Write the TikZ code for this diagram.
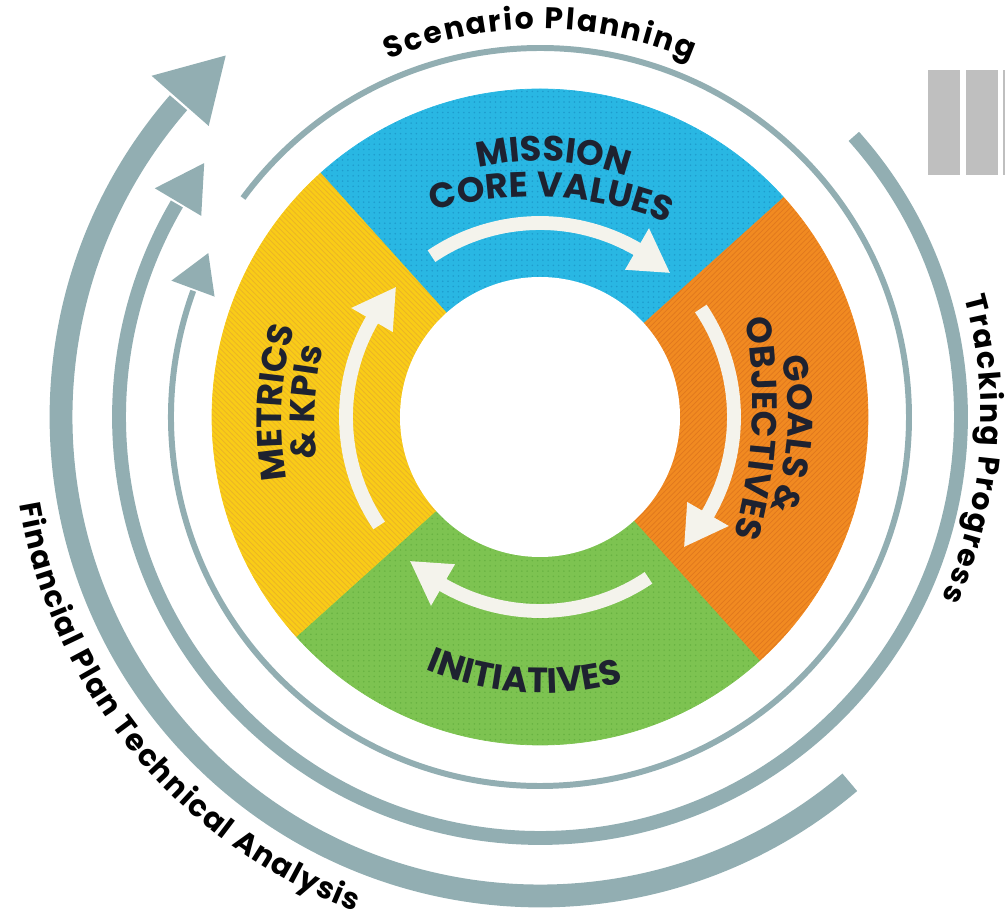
\documentclass[tikz,border=0pt]{standalone}
\usepackage{fontspec}
\setmainfont{Poppins}
\usepackage{tikz}
\usepackage{xcolor}
\usetikzlibrary{decorations.text, patterns}

\definecolor{ringgrey}{RGB}{146,174,178}
\definecolor{missionblue}{RGB}{41,183,227}
\definecolor{goalorange}{RGB}{241,138,33}
\definecolor{initgreen}{RGB}{125,195,81}
\definecolor{metricyellow}{RGB}{249,204,23}
\definecolor{bluedot}{RGB}{30,156,205}
\definecolor{orangeline}{RGB}{224,120,30}
\definecolor{greendot}{RGB}{104,178,66}
\definecolor{yellowline}{RGB}{234,178,40}
\definecolor{arrowwhite}{RGB}{244,243,236}
\definecolor{labeldark}{RGB}{30,34,48}
\definecolor{boxgrey}{RGB}{191,191,191}

\newcommand{\ringfont}{\fontsize{17}{17}\selectfont\bfseries}
\newcommand{\segfont}{\fontsize{20}{20}\selectfont\bfseries}

% white arrow inside a sector, #1 = middle angle of the sector
\newcommand{\cyclearrow}[1]{%
  \draw[arrowwhite, line width=7.9pt] (#1+37:194) arc[start angle=#1+37, end angle=#1-27.5, radius=194];
  \fill[arrowwhite] (#1-27:170) -- (#1-39:194) -- (#1-27:218) -- cycle;
}

\tikzset{
  ringlabel/.style={decorate, decoration={text along path, text align=fit to path,
      text color=black, text={|\ringfont|#1}}},
  seglabel/.style={decorate, decoration={text along path, text align=fit to path,
      text color=labeldark, text={|\segfont|#1}}},
}

\begin{document}
\begin{tikzpicture}[x=0.02cm, y=0.02cm]
\useasboundingbox (-540,-502) rectangle (465,417);
\coordinate (hub) at (0,0);

% the four sectors
\filldraw[missionblue, line width=0.4pt, postaction={pattern=dots, pattern color=bluedot}]
  (hub) -- (132:328) arc[start angle=132, end angle=42, radius=328] -- cycle;
\filldraw[goalorange, line width=0.4pt, postaction={pattern=north east lines, pattern color=orangeline}]
  (hub) -- (42:328) arc[start angle=42, end angle=-48, radius=328] -- cycle;
\filldraw[initgreen, line width=0.4pt, postaction={pattern=dots, pattern color=greendot}]
  (hub) -- (-48:328) arc[start angle=-48, end angle=-138, radius=328] -- cycle;
\filldraw[metricyellow, line width=0.4pt, postaction={pattern=north west lines, pattern color=yellowline}]
  (hub) -- (-138:328) arc[start angle=-138, end angle=-228, radius=328] -- cycle;
\fill[white] (hub) circle[radius=140];

\cyclearrow{87}
\cyclearrow{-3}
\cyclearrow{-93}
\cyclearrow{177}

% sector labels
\path[seglabel={MISSION}] (103.8:256) arc[start angle=103.8, end angle=70.2, radius=256];
\path[shift={(87:-140)}, seglabel={CORE VALUES}] (106.1:360) arc[start angle=106.1, end angle=67.9, radius=360];
\path[seglabel={GOALS {\&}}] (13.75:248) arc[start angle=13.75, end angle=-19.75, radius=248];
\path[shift={(-3:-288)}, seglabel={OBJECTIVES}] (9.6:500) arc[start angle=9.6, end angle=-15.6, radius=500];
\path[shift={(-94:-24)}, seglabel={INITIATIVES}] (-112.7:300) arc[start angle=-112.7, end angle=-75.3, radius=300];
\path[shift={(177:-92)}, seglabel={METRICS}] (189.5:350) arc[start angle=189.5, end angle=164.5, radius=350];
\path[shift={(177:-125)}, seglabel={{\&} KPIs}] (185.75:350) arc[start angle=185.75, end angle=168.25, radius=350];

% outer rings with their heads
\draw[ringgrey, line width=3.4pt] (143.6:369) arc[start angle=143.6, end angle=-200, radius=369];
\fill[ringgrey] (159.7:347) -- (153.7:370) -- (159.7:393) -- cycle;
\draw[ringgrey, line width=7.9pt] (41.8:421) arc[start angle=41.8, end angle=-210.4, radius=421];
\fill[ringgrey] (149.3:394) -- (142.9:421) -- (149.3:448) -- cycle;
\draw[ringgrey, line width=13pt] (-49.7:479) arc[start angle=-49.7, end angle=-221, radius=479];
\fill[ringgrey] (138.7:441) -- (131:479) -- (138.7:517) -- cycle;

% ring labels
\path[ringlabel={Scenario Planning}] (113:388) arc[start angle=113, end angle=67, radius=388];
\path[ringlabel={Tracking Progress}] (15.7:441) arc[start angle=15.7, end angle=-24.3, radius=441];
\path[ringlabel={Financial Plan Technical Analysis}] (189.5:528) arc[start angle=189.5, end angle=249.5, radius=528];

% grey blocks, top right
\fill[boxgrey] (388,242) rectangle (420,347);
\fill[boxgrey] (426,242) rectangle (458,347);
\fill[boxgrey] (463,242) rectangle (465,347);
\end{tikzpicture}
\end{document}
